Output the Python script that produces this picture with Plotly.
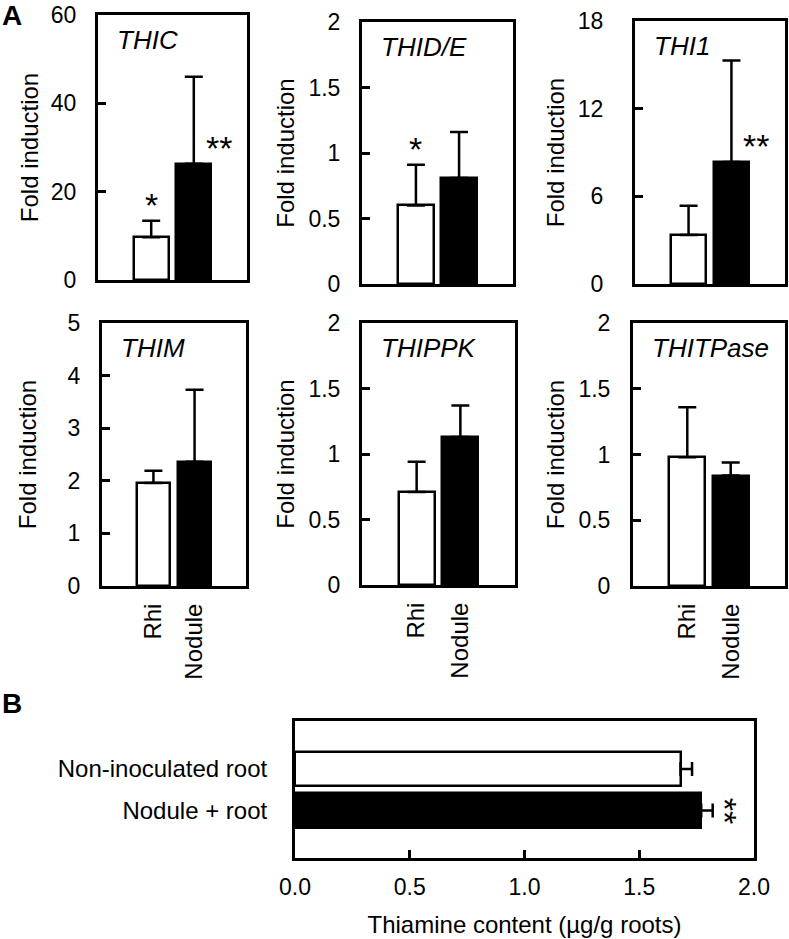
import plotly.graph_objects as go

# ---------------- data ----------------
genes = ["THIC", "THID/E", "THI1", "THIM", "THIPPK", "THITPase"]
conditions = ["Rhi", "Nodule"]
rhi_mean = [9.7, 0.60, 3.35, 1.96, 0.71, 0.98]
rhi_err = [3.7, 0.31, 2.0, 0.23, 0.23, 0.38]
nod_mean = [26.3, 0.81, 8.35, 2.36, 1.13, 0.84]
nod_err = [19.7, 0.35, 6.95, 1.37, 0.24, 0.10]
rhi_sig = ["*", "*", "", "", "", ""]
nod_sig = ["**", "", "**", "", "", ""]
y_max = [60, 2, 18, 5, 2, 2]
y_dtick = [20, 0.5, 6, 1, 0.5, 0.5]

thiamine_groups = ["Non-inoculated root", "Nodule + root"]
thiamine_mean = [1.68, 1.77]
thiamine_err = [0.05, 0.05]
thiamine_sig = ["", "**"]
thiamine_ticks = [0.0, 0.5, 1.0, 1.5, 2.0]

# ---------------- layout constants ----------------
W, H = 789, 939
FONT = "Arial, 'Liberation Sans', Helvetica, sans-serif"
# panel boxes in pixels: (left, right, top, bottom)
boxes = [(98, 247, 15, 280), (362, 513, 22, 284), (635, 785, 21, 284),
         (102, 246, 323, 586), (362, 515, 323, 585), (633, 785, 323, 586)]
tick_standoff = [14, 14, 24, 14, 14, 15]
title_standoff = [6, 8, 7, 25, 8, 8]
box_B = (295, 754, 721, 858)

fig = go.Figure()
annotations = []
layout = dict(
    template="none",
    width=W, height=H, margin=dict(l=0, r=0, t=0, b=0, pad=0, autoexpand=False),
    paper_bgcolor="white", plot_bgcolor="white",
    font=dict(family=FONT, size=23, color="black"),
    showlegend=False, bargap=0,
)

for i, g in enumerate(genes):
    n = i + 1
    xa = "x" if n == 1 else f"x{n}"
    ya = "y" if n == 1 else f"y{n}"
    xk = "xaxis" if n == 1 else f"xaxis{n}"
    yk = "yaxis" if n == 1 else f"yaxis{n}"
    l, r, t, b = boxes[i]
    fig.add_trace(go.Bar(
        x=conditions, y=[rhi_mean[i], nod_mean[i]], xaxis=xa, yaxis=ya,
        width=0.82,
        marker=dict(color=["white", "black"], line=dict(color="black", width=2.5)),
        error_y=dict(type="data", symmetric=False,
                     array=[rhi_err[i], nod_err[i]], arrayminus=[0, 0],
                     color="black", thickness=2.5, width=9),
        name=g, showlegend=False,
    ))
    layout[xk] = dict(
        domain=[l / W, r / W], anchor=ya, type="category", automargin=False,
        categoryorder="array", categoryarray=conditions, range=[-1.25, 2.25],
        showline=True, linewidth=3, linecolor="black", mirror=True,
        ticks="", showticklabels=(i >= 3), tickangle=-90, ticklabelstandoff=5,
        tickfont=dict(size=24), showgrid=False, zeroline=False, fixedrange=True,
    )
    layout[yk] = dict(
        domain=[1 - b / H, 1 - t / H], anchor=xa, automargin=False,
        range=[0, y_max[i]], tick0=0, dtick=y_dtick[i],
        ticks="inside", ticklen=8, tickwidth=2.5, tickcolor="black",
        ticklabelstandoff=tick_standoff[i],
        showline=True, linewidth=3, linecolor="black", mirror=True,
        showgrid=False, zeroline=False, fixedrange=True,
        tickfont=dict(size=23),
        title=dict(text="Fold induction", font=dict(size=24), standoff=title_standoff[i]),
    )
    # gene name
    annotations.append(dict(
        text=g, xref=f"{xa} domain", yref=f"{ya} domain", x=0, y=1,
        xanchor="left", yanchor="middle", xshift=17, yshift=-25,
        showarrow=False, font=dict(size=26, style="italic"),
    ))
    # significance markers
    if rhi_sig[i]:
        annotations.append(dict(
            text=rhi_sig[i], xref=xa, yref=ya, x=conditions[0],
            y=rhi_mean[i] + rhi_err[i], xanchor="center", yanchor="bottom",
            yshift=-5, showarrow=False, font=dict(size=34),
        ))
    if nod_sig[i]:
        annotations.append(dict(
            text=nod_sig[i], xref=xa, yref=ya, x=conditions[1],
            y=nod_mean[i], xanchor="left", yanchor="bottom",
            xshift=10, yshift=-5, showarrow=False, font=dict(size=34),
        ))

# ---------------- panel B ----------------
l, r, t, b = box_B
fig.add_trace(go.Bar(
    y=thiamine_groups, x=thiamine_mean, orientation="h", xaxis="x7", yaxis="y7",
    width=0.83,
    marker=dict(color=["white", "black"], line=dict(color="black", width=2.5)),
    error_x=dict(type="data", symmetric=False, array=thiamine_err,
                 arrayminus=[0, 0], color="black", thickness=2.5, width=7),
    showlegend=False, name="Thiamine",
))
layout["xaxis7"] = dict(
    domain=[l / W, r / W], anchor="y7", range=[0, 2], automargin=False,
    tickvals=thiamine_ticks, tickformat=".1f",
    ticks="inside", ticklen=8, tickwidth=2.5, tickcolor="black",
    ticklabelstandoff=6,
    showline=True, linewidth=3, linecolor="black", mirror=True,
    showgrid=False, zeroline=False, fixedrange=True, tickfont=dict(size=23),
    title=dict(text="Thiamine content (µg/g roots)", font=dict(size=24), standoff=18),
)
layout["yaxis7"] = dict(
    domain=[1 - b / H, 1 - t / H], anchor="x7", type="category", automargin=False,
    categoryorder="array", categoryarray=thiamine_groups, range=[2.145, -1.155],
    ticks="", ticklabelstandoff=20,
    showline=True, linewidth=3, linecolor="black", mirror=True,
    showgrid=False, zeroline=False, fixedrange=True, tickfont=dict(size=24),
)
for j, s in enumerate(thiamine_sig):
    if s:
        annotations.append(dict(
            text=s, xref="x7", yref="y7", x=thiamine_mean[j] + thiamine_err[j],
            y=thiamine_groups[j], xanchor="center", yanchor="middle",
            xshift=12, textangle=90, showarrow=False, font=dict(size=34),
        ))

# panel letters
annotations.append(dict(text="<b>A</b>", xref="paper", yref="paper", x=0, y=1 + 2 / H,
                        xanchor="left", yanchor="top", xshift=0, showarrow=False,
                        font=dict(size=28)))
annotations.append(dict(text="<b>B</b>", xref="paper", yref="paper", x=0, y=1 - 686 / H,
                        xanchor="left", yanchor="top", xshift=0, showarrow=False,
                        font=dict(size=28)))

layout["annotations"] = annotations
fig.update_layout(**layout)
fig.write_html("out.html", config={"displayModeBar": False},
               post_script="document.body.style.margin='0';document.body.style.overflow='hidden';")
